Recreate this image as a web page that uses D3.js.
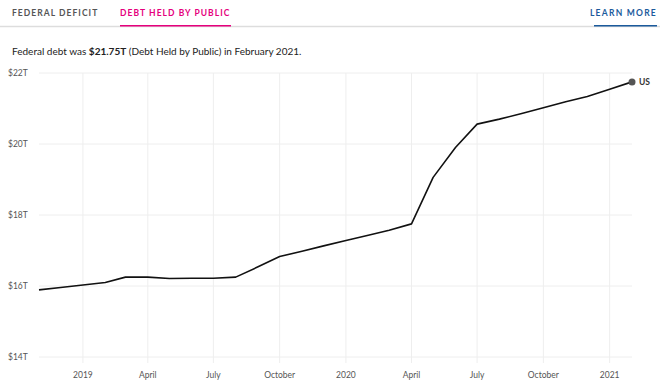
<!DOCTYPE html>
<html>
<head>
  <meta charset="utf-8" />
  <script src="https://d3js.org/d3.v7.min.js"></script>
  <style>
    body { margin: 0; background: #fff; }
    svg { font-family: "Lato", "Open Sans", sans-serif; }
  </style>
</head>
<body>
  <div id="chart"></div>
  <script>
    // monthly debt held by the public, trillions of dollars
    const months = [
      "2018-11", "2018-12", "2019-01", "2019-02", "2019-03", "2019-04",
      "2019-05", "2019-06", "2019-07", "2019-08", "2019-09", "2019-10",
      "2019-11", "2019-12", "2020-01", "2020-02", "2020-03", "2020-04",
      "2020-05", "2020-06", "2020-07", "2020-08", "2020-09", "2020-10",
      "2020-11", "2020-12", "2021-01", "2021-02"
    ];
    const debt = [
      15.89, 15.96, 16.03, 16.10, 16.25, 16.25,
      16.21, 16.22, 16.22, 16.25, 16.54, 16.83,
      16.98, 17.13, 17.28, 17.43, 17.57, 17.75,
      19.06, 19.90, 20.56, 20.70, 20.86, 21.02,
      21.19, 21.34, 21.54, 21.75
    ];
    const yTicks = [14, 16, 18, 20, 22];
    const xTicks = ["2019-01", "2019-04", "2019-07", "2019-10", "2020-01",
                    "2020-04", "2020-07", "2020-10", "2021-01"];
    const tabs = ["FEDERAL DEFICIT", "DEBT HELD BY PUBLIC"];

    const width = 660, height = 385;
    const parse = d3.timeParse("%Y-%m");
    const data = months.map((m, i) => ({ date: parse(m), value: debt[i] }));

    const svg = d3.select("#chart").append("svg")
      .attr("width", width)
      .attr("height", height);

    // tab bar
    svg.append("line")
      .attr("x1", 0).attr("x2", width)
      .attr("y1", 26.5).attr("y2", 26.5)
      .attr("stroke", "#ddd").attr("stroke-width", 1.5);

    const tabX = [12, 120];
    const tabColor = ["#555", "#e5007d"];
    tabs.forEach((t, i) => {
      svg.append("text")
        .attr("x", tabX[i]).attr("y", 15.5)
        .attr("font-size", 8.5).attr("font-weight", 700)
        .attr("letter-spacing", 1.05)
        .attr("fill", tabColor[i])
        .text(t);
      if (i === 1) {
        svg.append("line")
          .attr("x1", tabX[i]).attr("x2", 231)
          .attr("y1", 25.7).attr("y2", 25.7)
          .attr("stroke", tabColor[i]).attr("stroke-width", 1.5);
      }
    });

    svg.append("text")
      .attr("x", 657).attr("y", 15.5)
      .attr("text-anchor", "end")
      .attr("font-size", 8.5).attr("font-weight", 700)
      .attr("letter-spacing", 1.25)
      .attr("fill", "#1b5a9c")
      .text("LEARN MORE");
    svg.append("line")
      .attr("x1", 594).attr("x2", 657)
      .attr("y1", 25.7).attr("y2", 25.7)
      .attr("stroke", "#1b5a9c").attr("stroke-width", 1.5);

    // subtitle
    const sub = svg.append("text")
      .attr("x", 12).attr("y", 54.5)
      .attr("font-size", 10)
      .attr("fill", "#222");
    sub.append("tspan").text("Federal debt was ");
    sub.append("tspan").attr("font-weight", 700).text("$21.75T");
    sub.append("tspan").text(" (Debt Held by Public) in February 2021.");

    // scales
    const x = d3.scaleTime()
      .domain([parse("2018-11"), parse("2021-02")])
      .range([39, 632]);
    const y = d3.scaleLinear()
      .domain([14, 22])
      .range([357, 73]);

    // grid
    svg.append("g")
      .selectAll("line")
      .data(yTicks)
      .join("line")
      .attr("x1", 39).attr("x2", 632)
      .attr("y1", d => y(d)).attr("y2", d => y(d))
      .attr("stroke", "#eee");

    svg.append("g")
      .selectAll("line")
      .data(xTicks.map(parse))
      .join("line")
      .attr("x1", d => x(d)).attr("x2", d => x(d))
      .attr("y1", 73).attr("y2", 363)
      .attr("stroke", "#eee");

    // axis labels
    svg.append("g")
      .selectAll("text")
      .data(yTicks)
      .join("text")
      .attr("x", 8).attr("y", d => y(d) + 3)
      .attr("font-size", 8.5)
      .attr("fill", "#555")
      .text(d => "$" + d + "T");

    const fmt = d => d.getMonth() === 0 ? d3.timeFormat("%Y")(d) : d3.timeFormat("%B")(d);
    svg.append("g")
      .selectAll("text")
      .data(xTicks.map(parse))
      .join("text")
      .attr("x", d => x(d)).attr("y", 378)
      .attr("text-anchor", "middle")
      .attr("font-size", 8.5)
      .attr("fill", "#555")
      .text(fmt);

    // line
    const line = d3.line()
      .x(d => x(d.date))
      .y(d => y(d.value));

    svg.append("path")
      .datum(data)
      .attr("d", line)
      .attr("fill", "none")
      .attr("stroke", "#111")
      .attr("stroke-width", 1.6)
      .attr("stroke-linejoin", "round");

    const last = data[data.length - 1];
    svg.append("circle")
      .attr("cx", x(last.date)).attr("cy", y(last.value))
      .attr("r", 3.5)
      .attr("fill", "#555");
    svg.append("text")
      .attr("x", x(last.date) + 7).attr("y", y(last.value) + 3)
      .attr("font-size", 8.5)
      .attr("font-weight", 700)
      .attr("fill", "#333")
      .text("US");
  </script>
</body>
</html>
